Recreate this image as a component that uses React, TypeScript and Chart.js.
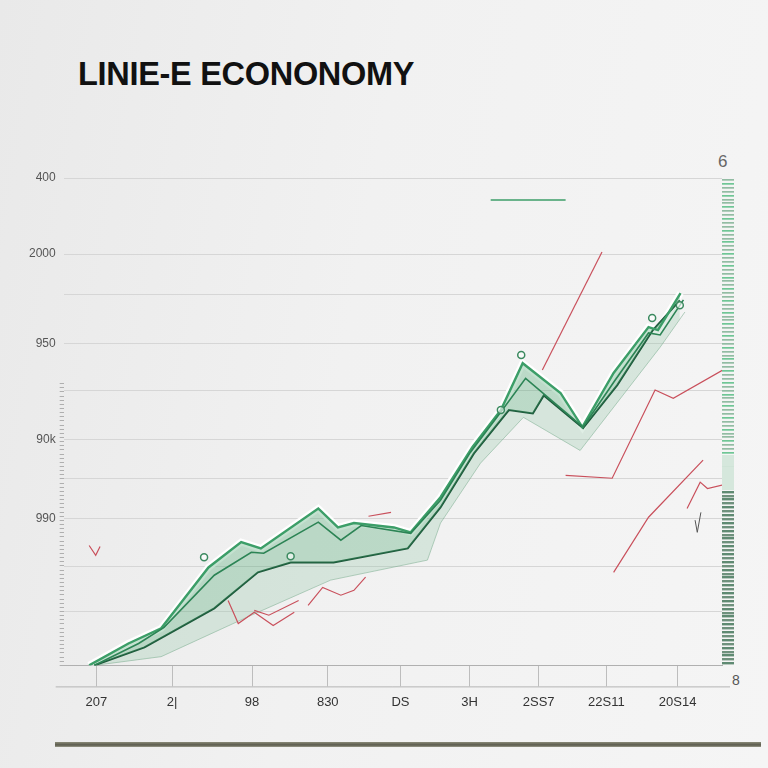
import React, { useEffect, useRef } from "react";
import { Chart, registerables } from "chart.js";

Chart.register(...registerables);

const titleText = "LINIE\u2011E ECONONOMY";
const xLabels = ["207", "2|", "98", "830", "DS", "3H", "2SS7", "22S11", "20S14"];
const xTickValues = [0, 1.04, 2.14, 3.18, 4.18, 5.13, 6.08, 7.01, 7.99];
const yTickValues = [0, 11.1, 20.3, 30.2, 38.4, 46.4, 56.5, 66.1, 76.0, 84.4, 100];
const yTickLabels = ["", "", "", "990", "", "90k", "", "950", "", "2000", "400"];

const upperX = [-0.1, 0.44, 0.89, 1.54, 1.99, 2.26, 3.05, 3.32, 3.54, 4.09, 4.32, 4.73, 5.17, 5.56, 5.86, 6.38, 6.68, 7.11, 7.59, 7.72, 8.03];
const upperY = [0, 4.5, 7.6, 20.1, 25.3, 24.0, 32.2, 28.3, 29.2, 28.3, 27.3, 34.5, 44.8, 52.4, 62.0, 55.9, 48.9, 60.0, 69.4, 68.8, 76.4];

const midX = [-0.03, 0.58, 0.93, 1.62, 2.13, 2.3, 3.05, 3.36, 3.64, 4.32, 4.73, 5.14, 5.56, 5.9, 6.69, 7.13, 7.59, 7.75, 8.07];
const midY = [0, 4.5, 7.8, 18.5, 23.2, 23.0, 29.4, 25.7, 28.7, 27.1, 33.9, 43.7, 52.0, 58.9, 48.9, 58.5, 68.2, 67.8, 75.0];

const darkX = [-0.03, 0.66, 1.62, 2.22, 2.67, 3.26, 4.28, 4.73, 5.19, 5.67, 6.0, 6.15, 6.69, 7.16, 7.65, 8.02];
const darkY = [0, 3.7, 11.7, 19.1, 21.1, 21.1, 24.0, 32.4, 43.5, 52.4, 51.7, 55.4, 48.7, 57.5, 68.8, 74.9];

const bandX = [-0.03, 0.89, 2.13, 3.22, 4.55, 4.73, 5.28, 5.87, 6.65, 7.75, 8.09];
const bandY = [0, 1.8, 10.3, 17.5, 21.6, 29.2, 41.5, 50.9, 44.1, 65.3, 72.5];

const markerX = [1.48, 2.67, 5.84, 5.56, 7.64, 8.02];
const markerY = [22.2, 22.4, 63.7, 52.4, 71.3, 73.9];

const legendX = [5.42, 6.45];
const legendY = [95.5, 95.5];

const redSeries: { x: number[]; y: number[] }[] = [
  { x: [-0.1, -0.01, 0.05], y: [24.6, 22.6, 24.4] },
  { x: [1.81, 1.95, 2.17, 2.43, 2.72], y: [13.3, 8.6, 10.9, 8.2, 10.9] },
  { x: [2.17, 2.37, 2.78], y: [11.3, 10.3, 13.3] },
  { x: [2.91, 3.11, 3.36, 3.54, 3.7], y: [12.3, 16.0, 14.4, 15.4, 18.1] },
  { x: [3.74, 4.05], y: [30.6, 31.4] },
  { x: [6.13, 6.95], y: [60.6, 84.8] },
  { x: [6.45, 7.09, 7.68, 7.93, 8.61], y: [39.0, 38.4, 56.5, 54.8, 60.6] },
  { x: [7.11, 7.59, 8.34], y: [19.1, 30.4, 42.1] },
  { x: [8.12, 8.3, 8.4, 8.61], y: [32.2, 37.6, 36.3, 37.0] },
];
const checkX = [8.23, 8.26, 8.31];
const checkY = [29.8, 27.3, 31.4];

const pts = (xs: number[], ys: number[]) => xs.map((x, i) => ({ x, y: ys[i] }));

export default function App() {
  const ref = useRef<HTMLCanvasElement | null>(null);

  useEffect(() => {
    if (!ref.current) return;
    const bottomLine = {
      id: "bottomLine",
      afterDraw(chart: any) {
        const c = chart.ctx;
        const x = chart.scales.x;
        const a = chart.chartArea;
        const y = x.top + 21.5;
        c.save();
        c.strokeStyle = "#b4b4b4";
        c.lineWidth = 1;
        c.beginPath();
        c.moveTo(a.left - 8, y);
        c.lineTo(a.right + 8, y);
        c.stroke();
        c.restore();
      },
    };

    const reds = redSeries.map((s) => ({
      data: pts(s.x, s.y),
      borderColor: "#c9505c",
      borderWidth: 1.2,
      pointRadius: 0,
      fill: false,
      order: 1,
    }));

    const chart = new Chart(ref.current, {
      type: "line",
      data: {
        datasets: [
          {
            data: pts(upperX, upperY),
            borderColor: "rgba(255,255,255,0.95)",
            borderWidth: 7,
            pointRadius: 0,
            fill: false,
            order: 10,
          },
          {
            data: pts(bandX, bandY),
            borderColor: "rgba(120,170,140,0.55)",
            borderWidth: 1,
            pointRadius: 0,
            fill: false,
            order: 9,
          },
          {
            data: pts(darkX, darkY),
            borderColor: "#1e5a3c",
            borderWidth: 2,
            pointRadius: 0,
            fill: { target: 1, above: "rgba(150,200,170,0.3)", below: "rgba(150,200,170,0.3)" },
            order: 5,
          },
          {
            data: pts(upperX, upperY),
            borderColor: "#3c9e68",
            borderWidth: 2.4,
            pointRadius: 0,
            fill: { target: 2, above: "rgba(70,165,110,0.32)", below: "rgba(70,165,110,0.32)" },
            order: 4,
          },
          {
            data: pts(midX, midY),
            borderColor: "#2c8455",
            borderWidth: 1.6,
            pointRadius: 0,
            fill: false,
            order: 3,
          },
          ...reds,
          {
            data: pts(checkX, checkY),
            borderColor: "#555",
            borderWidth: 1,
            pointRadius: 0,
            fill: false,
            order: 1,
          },
          {
            data: pts(legendX, legendY),
            borderColor: "#3c9e68",
            borderWidth: 1.5,
            pointRadius: 0,
            fill: false,
            order: 1,
          },
          {
            data: pts(markerX, markerY),
            showLine: false,
            pointRadius: 3.5,
            pointBorderWidth: 1.5,
            pointBorderColor: "#3c8a60",
            pointBackgroundColor: "rgba(255,255,255,0.6)",
            order: 0,
          },
        ],
      },
      options: {
        responsive: false,
        animation: false,
        layout: { padding: { left: 25, right: 34, top: 178, bottom: 50 } },
        plugins: { legend: { display: false }, tooltip: { enabled: false }, title: { display: false } },
        elements: { line: { tension: 0 } },
        scales: {
          x: {
            type: "linear",
            min: -0.45,
            max: 8.6,
            afterBuildTicks: (axis: any) => {
              axis.ticks = xTickValues.map((v) => ({ value: v }));
            },
            ticks: {
              autoSkip: false,
              maxRotation: 0,
              padding: 8,
              color: "#333",
              font: { family: "Liberation Sans", size: 13 },
              callback: (_v: any, i: number) => xLabels[i] ?? "",
            },
            grid: { drawOnChartArea: false, drawTicks: true, tickLength: 21, color: "#bdbdbd" },
            border: { display: true, color: "#b0b0b0" },
          },
          y: {
            type: "linear",
            position: "left",
            weight: 1,
            min: 0,
            max: 100,
            afterBuildTicks: (axis: any) => {
              axis.ticks = yTickValues.map((v) => ({ value: v }));
            },
            ticks: {
              autoSkip: false,
              padding: 4,
              color: "#555",
              font: { family: "Liberation Sans", size: 12 },
              callback: (_v: any, i: number) => yTickLabels[i] ?? "",
            },
            grid: { drawTicks: false, color: (ctx: any) => (ctx.tick && ctx.tick.value === 0 ? "rgba(0,0,0,0)" : "#d6d6d6") },
            border: { display: false },
          },
          yr: {
            type: "linear",
            position: "left",
            weight: 0,
            min: 0,
            max: 100,
            afterBuildTicks: (axis: any) => {
              const t: { value: number }[] = [];
              for (let v = 0; v <= 58.5; v += 0.85) t.push({ value: v });
              axis.ticks = t;
            },
            ticks: { display: false },
            grid: { drawOnChartArea: false, drawTicks: true, tickLength: 4, color: "#a0a0a0", lineWidth: 0.8 },
            border: { display: false },
          },
          yg: {
            type: "linear",
            position: "right",
            min: 0,
            max: 100,
            afterBuildTicks: (axis: any) => {
              const t: { value: number }[] = [];
              for (let v = 0.4; v <= 100; v += 0.8) t.push({ value: v });
              axis.ticks = t;
            },
            ticks: { display: false },
            grid: {
              drawOnChartArea: false,
              drawTicks: true,
              tickLength: 12,
              color: (ctx: any) => {
                const v = ctx.tick ? ctx.tick.value : 0;
                const i = ctx.index || 0;
                if (v < 36) return i % 2 ? "#6f917d" : "#5f8a72";
                if (v < 43) return "rgba(205,228,214,0.8)";
                return i % 3 === 0 ? "#6fc695" : "#92bca3";
              },
              lineWidth: (ctx: any) => {
                const v = ctx.tick ? ctx.tick.value : 0;
                if (v < 36) return 2.4;
                if (v < 43) return 4;
                return 1.7;
              },
            },
            border: { display: false },
          },
        },
      },
      plugins: [bottomLine],
    } as any);
    return () => chart.destroy();
  }, []);

  return (
    <div
      style={{
        position: "fixed",
        left: 0,
        top: 0,
        width: 768,
        height: 768,
        background: "linear-gradient(100deg, #e9e9e9 0%, #f1f1f1 45%, #f5f5f5 100%)",
        overflow: "hidden",
        fontFamily: "Liberation Sans, Arial, sans-serif",
      }}
    >
      <div
        style={{
          position: "absolute",
          left: 78,
          top: 56,
          fontSize: 32.5,
          fontWeight: 700,
          color: "#111",
          letterSpacing: -0.3,
          whiteSpace: "nowrap",
        }}
      >
        {titleText}
      </div>
      <div style={{ position: "absolute", left: 718, top: 152, fontSize: 17, color: "#666" }}>6</div>
      <div style={{ position: "absolute", left: 732, top: 672, fontSize: 14, color: "#555" }}>8</div>
      <div
        style={{
          position: "absolute",
          left: 55,
          top: 742,
          width: 706,
          height: 5,
          background: "linear-gradient(180deg, #8a8a78 0%, #5a5a4c 60%, #9a9a8a 100%)",
        }}
      />
      <canvas ref={ref} width={768} height={768} style={{ position: "absolute", left: 0, top: 0 }} />
    </div>
  );
}
